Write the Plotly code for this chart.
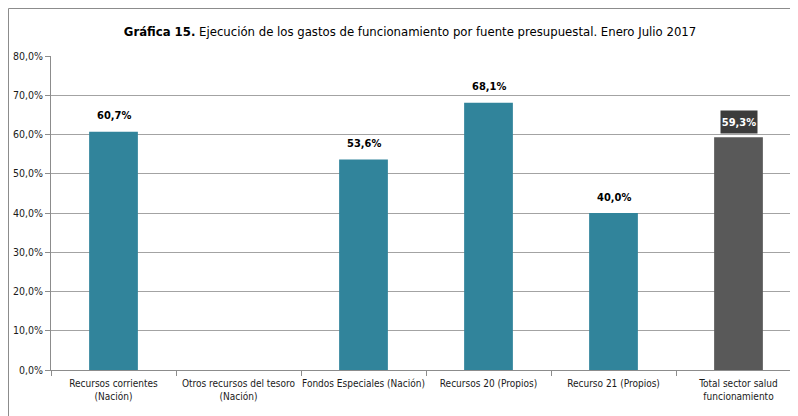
import plotly.graph_objects as go

categories = [
    "Recursos corrientes<br>(Nación)",
    "Otros recursos del tesoro<br>(Nación)",
    "Fondos Especiales (Nación)",
    "Recursos 20 (Propios)",
    "Recurso 21 (Propios)",
    "Total sector salud<br>funcionamiento",
]
values = [60.7, None, 53.6, 68.1, 40.0, 59.3]
bar_colors = ["#31849B", "#31849B", "#31849B", "#31849B", "#31849B", "#595959"]
title_bold = "Gráfica 15."
title_rest = " Ejecución de los gastos de funcionamiento por fuente presupuestal. Enero Julio 2017"
y_ticks = [0, 10, 20, 30, 40, 50, 60, 70, 80]
y_tick_labels = [f"{v:.1f}%".replace(".", ",") for v in y_ticks]

FONT = "DejaVu Sans Condensed, Liberation Sans, sans-serif"
GRID = "#A3A3A3"
AXIS = "#8C8C8C"

# page body has an 8px margin: figure is 790x408 placed at (8, 8)
W, H = 790, 408
ML, MT, MB = 43, 48, 46
PW, PH = W - ML, H - MT - MB

fig = go.Figure()

fig.add_trace(go.Bar(
    x=categories, y=values,
    marker=dict(color=bar_colors, line=dict(width=0)),
    width=0.39,
    hoverinfo="skip",
))

for cat, val in zip(categories, values):
    if val is None:
        continue
    label = f"{val:.1f}%".replace(".", ",")
    if cat == categories[-1]:
        fig.add_annotation(
            x=cat, y=val, xref="x", yref="y",
            text=f"<b>{label}</b>", showarrow=False, yshift=15,
            font=dict(family=FONT, size=11, color="#FFFFFF"),
            bgcolor="#3C3C3C", width=36, height=22, borderpad=0,
        )
    else:
        fig.add_annotation(
            x=cat, y=val, xref="x", yref="y",
            text=f"<b>{label}</b>", showarrow=False, yshift=16,
            font=dict(family=FONT, size=11, color="#000000"),
        )

fig.update_layout(
    width=W, height=H,
    margin=dict(l=ML, r=0, t=MT, b=MB),
    paper_bgcolor="white", plot_bgcolor="white",
    showlegend=False,
    title=dict(
        text=f"<b>{title_bold}</b>{title_rest}",
        x=402 / W, xanchor="center", y=1 - 23 / H, yanchor="middle",
        font=dict(family=FONT, size=13, color="#000000"),
    ),
    font=dict(family=FONT, color="#1A1A1A"),
)

fig.update_xaxes(
    range=[-0.5, -0.5 + PW / 125],
    showline=True, linecolor=AXIS, linewidth=1,
    ticks="outside", tickson="boundaries", ticklen=5, tickcolor=AXIS,
    tickangle=0, ticklabelstandoff=4,
    tickfont=dict(family=FONT, size=10, color="#1A1A1A"),
    showgrid=False,
)
fig.update_yaxes(
    range=[0, 80],
    tickvals=y_ticks, ticktext=y_tick_labels,
    showline=True, linecolor=AXIS, linewidth=1,
    ticks="outside", ticklen=5, tickcolor=AXIS,
    showgrid=True, gridcolor=GRID, gridwidth=1,
    zeroline=False,
    tickfont=dict(family=FONT, size=10.5, color="#1A1A1A"),
)

# outer chart frame (top and left edges visible)
fx = (0.5 - ML) / PW
fy = 1 + (MT - 0.5) / PH
fig.add_shape(type="line", xref="paper", yref="paper",
              x0=fx, x1=1.01, y0=fy, y1=fy,
              line=dict(color=AXIS, width=1))
fig.add_shape(type="line", xref="paper", yref="paper",
              x0=fx, x1=fx, y0=fy, y1=-0.3,
              line=dict(color=AXIS, width=1))

fig.write_html("out.html")
